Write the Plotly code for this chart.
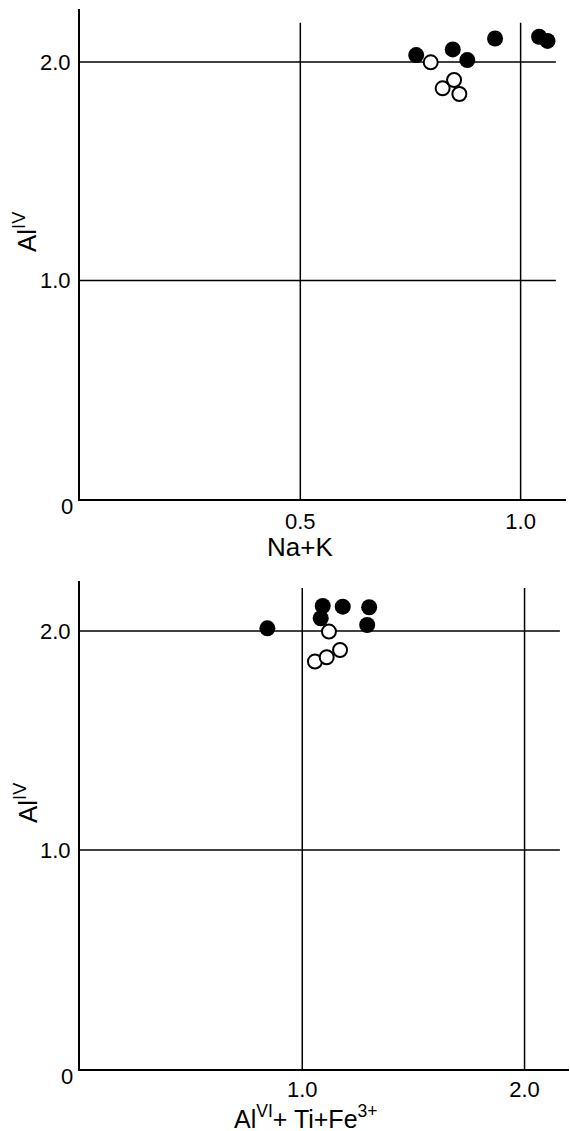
import plotly.graph_objects as go

# ---- data ----
top_filled_x = [0.763, 0.846, 0.879, 0.942, 1.042, 1.061]
top_filled_y = [2.032, 2.058, 2.009, 2.108, 2.116, 2.097]
top_open_x = [0.796, 0.823, 0.849, 0.861]
top_open_y = [1.999, 1.880, 1.918, 1.854]

bot_filled_x = [0.843, 1.092, 1.083, 1.182, 1.301, 1.292]
bot_filled_y = [2.012, 2.114, 2.058, 2.111, 2.108, 2.027]
bot_open_x = [1.120, 1.057, 1.110, 1.170]
bot_open_y = [1.997, 1.860, 1.880, 1.913]

top_xticks = [0.5, 1.0]
top_xticklabels = ["0.5", "1.0"]
bot_xticks = [1.0, 2.0]
bot_xticklabels = ["1.0", "2.0"]
yticks = [1.0, 2.0]
yticklabels = ["1.0", "2.0"]

top_xtitle = "Na+K"
bot_xtitle = "Al<sup>VI</sup>+ Ti+Fe<sup>3+</sup>"
ytitle = "Al<sup>IV</sup>"

W, H = 570, 1131
FONT = "Liberation Sans, Arial, sans-serif"


def dx(a, b):
    return [a / W, b / W]


def dy(top, bottom):
    return [1 - bottom / H, 1 - top / H]


fig = go.Figure()

filled_marker = dict(size=16, color="black", line=dict(width=0))
open_marker = dict(size=14, color="white", line=dict(width=2, color="black"))

fig.add_trace(go.Scatter(x=top_filled_x, y=top_filled_y, mode="markers",
                         marker=filled_marker, xaxis="x", yaxis="y", showlegend=False))
fig.add_trace(go.Scatter(x=top_open_x, y=top_open_y, mode="markers",
                         marker=open_marker, xaxis="x", yaxis="y", showlegend=False))
fig.add_trace(go.Scatter(x=bot_filled_x, y=bot_filled_y, mode="markers",
                         marker=filled_marker, xaxis="x2", yaxis="y2", showlegend=False))
fig.add_trace(go.Scatter(x=bot_open_x, y=bot_open_y, mode="markers",
                         marker=open_marker, xaxis="x2", yaxis="y2", showlegend=False))

TICKSIZE = 22
axis_common = dict(showgrid=False, zeroline=False, showline=True, linecolor="black",
                   linewidth=2, ticks="", tickfont=dict(family=FONT, size=TICKSIZE, color="black"),
                   fixedrange=True)

top_xr = [0, 1.103]
top_yr = [0, 2.243]
bot_xr = [0, 2.2]
bot_yr = [0, 2.228]

fig.update_layout(
    width=W, height=H,
    margin=dict(l=0, r=0, t=0, b=0),
    paper_bgcolor="white", plot_bgcolor="white",
    xaxis=dict(domain=dx(80, 566), range=top_xr, anchor="y",
               tickvals=top_xticks, ticktext=top_xticklabels, ticklabelstandoff=2,
               **axis_common),
    yaxis=dict(domain=dy(9, 499), range=top_yr, anchor="x",
               tickvals=yticks, ticktext=yticklabels, ticklabelstandoff=3,
               **axis_common),
    xaxis2=dict(domain=dx(80, 569), range=bot_xr, anchor="y2",
                tickvals=bot_xticks, ticktext=bot_xticklabels, ticklabelstandoff=0,
                **axis_common),
    yaxis2=dict(domain=dy(581, 1069), range=bot_yr, anchor="x2",
                tickvals=yticks, ticktext=yticklabels, ticklabelstandoff=3,
                **axis_common),
)

# grid lines (data coordinates, partial extents as in the reference)
grid = dict(color="black", width=1.5)
shapes = []
for v in top_xticks:
    shapes.append(dict(type="line", xref="x", yref="y", x0=v, x1=v, y0=0, y1=2.18,
                       line=grid, layer="below"))
for v in yticks:
    shapes.append(dict(type="line", xref="x", yref="y", x0=0, x1=1.08, y0=v, y1=v,
                       line=grid, layer="below"))
for v in bot_xticks:
    shapes.append(dict(type="line", xref="x2", yref="y2", x0=v, x1=v, y0=0, y1=2.196,
                       line=grid, layer="below"))
for v in yticks:
    shapes.append(dict(type="line", xref="x2", yref="y2", x0=0, x1=2.159, y0=v, y1=v,
                       line=grid, layer="below"))
fig.update_layout(shapes=shapes)

ann = []
# origin "0" labels
for ypx in (506, 1076):
    ann.append(dict(text="0", x=67 / W, y=1 - ypx / H, xref="paper", yref="paper",
                    showarrow=False, xanchor="center", yanchor="middle",
                    font=dict(family=FONT, size=TICKSIZE, color="black")))
# x titles
ann.append(dict(text=top_xtitle, x=300 / W, y=1 - 547 / H, xref="paper", yref="paper",
                showarrow=False, xanchor="center", yanchor="middle",
                font=dict(family=FONT, size=26, color="black")))
ann.append(dict(text=bot_xtitle, x=306 / W, y=1 - 1117 / H, xref="paper", yref="paper",
                showarrow=False, xanchor="center", yanchor="middle",
                font=dict(family=FONT, size=25, color="black")))
# y titles
for ypx in (232, 803):
    ann.append(dict(text=ytitle, x=26 / W, y=1 - ypx / H, xref="paper", yref="paper",
                    showarrow=False, xanchor="center", yanchor="middle", textangle=-90,
                    font=dict(family=FONT, size=26, color="black")))
fig.update_layout(annotations=ann)

fig.write_html("out.html")
